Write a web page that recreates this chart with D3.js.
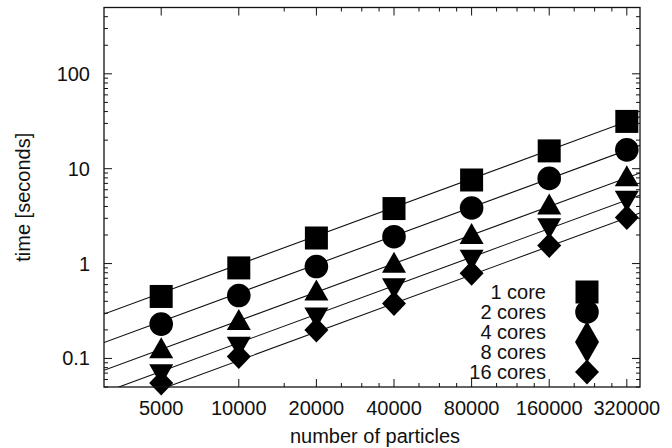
<!DOCTYPE html>
<html><head><meta charset="utf-8">
<script src="https://cdn.jsdelivr.net/npm/d3@7"></script>
<style>body{margin:0;background:#fff} text{font-family:"Liberation Sans",Arial,Helvetica,sans-serif;fill:#111}</style>
</head><body><svg id="c" width="672" height="448"></svg>
<script>
const particles = [5000, 10000, 20000, 40000, 80000, 160000, 320000];
const xTickLabels = ["5000", "10000", "20000", "40000", "80000", "160000", "320000"];
const xMinorTicks = [15000, 25000, 30000, 35000, 50000, 60000, 70000, 100000, 120000, 140000, 200000, 240000, 280000];
const seriesNames = ["1 core", "2 cores", "4 cores", "8 cores", "16 cores"];
const core1 = [0.45, 0.90, 1.86, 3.8, 7.6, 15.4, 31.5];
const core2 = [0.23, 0.46, 0.93, 1.92, 3.85, 7.9, 15.8];
const core4 = [0.128, 0.254, 0.52, 1.02, 2.05, 4.2, 8.3];
const core8 = [0.068, 0.133, 0.27, 0.55, 1.1, 2.35, 4.6];
const core16 = [0.055, 0.105, 0.2, 0.38, 0.79, 1.55, 3.05];
const fitCoef = [9.8e-5, 4.9e-5, 2.5e-5, 1.46e-5, 9.5e-6];
const yTickValues = [0.1, 1, 10, 100];
const yTickLabels = ["0.1", "1", "10", "100"];
const xDomain = [3000, 360000];
const yDomain = [0.05, 500];

const allSeries = [core1, core2, core4, core8, core16];
const shapes = ["square", "circle", "up", "down", "diamond"];

const svg = d3.select("#c");
const L = 104, R = 640, T = 7.5, B = 387;
const FS = 20;
const x = d3.scaleLog().domain(xDomain).range([L, R]);
const y = d3.scaleLog().domain(yDomain).range([B, T]);

svg.append("defs").append("clipPath").attr("id", "clip")
  .append("rect").attr("x", L).attr("y", T).attr("width", R - L).attr("height", B - T);

function shapePath(s) {
  switch (s) {
    case "square": return "M-11.5,-11.5H11.5V11.5H-11.5Z";
    case "circle": return d3.symbol(d3.symbolCircle, Math.PI * 11.8 * 11.8)();
    case "up": return "M0,-11L12,10H-12Z";
    case "down": return "M0,11L12,-10H-12Z";
    case "diamond": return "M0,-12.5L12,0L0,12.5L-12,0Z";
  }
}

// fit lines
const g = svg.append("g").attr("clip-path", "url(#clip)");
const line = d3.line().x(d => x(d[0])).y(d => y(d[1]));
fitCoef.forEach(a => {
  g.append("path").attr("d", line(xDomain.map(n => [n, a * n])))
    .attr("fill", "none").attr("stroke", "#111").attr("stroke-width", 1.1);
});

// ticks
const ticks = svg.append("g").attr("stroke", "#111").attr("stroke-width", 1);
yTickValues.forEach(v => {
  ticks.append("line").attr("x1", L).attr("x2", L + 8).attr("y1", y(v)).attr("y2", y(v));
  ticks.append("line").attr("x1", R).attr("x2", R - 8).attr("y1", y(v)).attr("y2", y(v));
});
const yMinor = [];
for (let e = -2; e <= 2; e++) for (let m = 2; m <= 9; m++) {
  const v = m * Math.pow(10, e);
  if (v >= yDomain[0] && v <= yDomain[1]) yMinor.push(v);
}
yMinor.forEach(v => {
  ticks.append("line").attr("x1", L).attr("x2", L + 4).attr("y1", y(v)).attr("y2", y(v));
  ticks.append("line").attr("x1", R).attr("x2", R - 4).attr("y1", y(v)).attr("y2", y(v));
});
particles.forEach(v => {
  ticks.append("line").attr("x1", x(v)).attr("x2", x(v)).attr("y1", B).attr("y2", B - 8);
  ticks.append("line").attr("x1", x(v)).attr("x2", x(v)).attr("y1", T).attr("y2", T + 8);
});
xMinorTicks.forEach(v => {
  ticks.append("line").attr("x1", x(v)).attr("x2", x(v)).attr("y1", B).attr("y2", B - 4);
  ticks.append("line").attr("x1", x(v)).attr("x2", x(v)).attr("y1", T).attr("y2", T + 4);
});

// markers
allSeries.forEach((vals, i) => {
  svg.append("g").selectAll("path").data(vals).join("path")
    .attr("d", shapePath(shapes[i]))
    .attr("transform", (d, j) => `translate(${x(particles[j])},${y(d)})`)
    .attr("fill", "#000");
});

// frame
svg.append("rect").attr("x", L).attr("y", T).attr("width", R - L).attr("height", B - T)
  .attr("fill", "none").attr("stroke", "#111").attr("stroke-width", 1.3);

// tick labels
svg.append("g").selectAll("text").data(yTickValues).join("text")
  .attr("x", 90).attr("y", d => y(d)).attr("dy", "0.35em")
  .attr("text-anchor", "end").attr("font-size", FS).text((d, i) => yTickLabels[i]);
svg.append("g").selectAll("text").data(particles).join("text")
  .attr("x", d => x(d)).attr("y", 415).attr("text-anchor", "middle")
  .attr("font-size", FS).text((d, i) => xTickLabels[i]);

// axis titles
svg.append("text").attr("x", (L + R) / 2 + 3).attr("y", 443).attr("text-anchor", "middle")
  .attr("font-size", FS).text("number of particles");
svg.append("text").attr("transform", `translate(30,${(T + B) / 2}) rotate(-90)`)
  .attr("text-anchor", "middle").attr("font-size", FS).text("time [seconds]");

// legend
const leg = svg.append("g");
seriesNames.forEach((name, i) => {
  const ly = 292 + i * 20;
  leg.append("text").attr("x", 546).attr("y", ly).attr("dy", "0.35em")
    .attr("text-anchor", "end").attr("font-size", FS).text(name);
  leg.append("path").attr("d", shapePath(shapes[i]))
    .attr("transform", `translate(587,${ly})`).attr("fill", "#000");
});
</script></body></html>
